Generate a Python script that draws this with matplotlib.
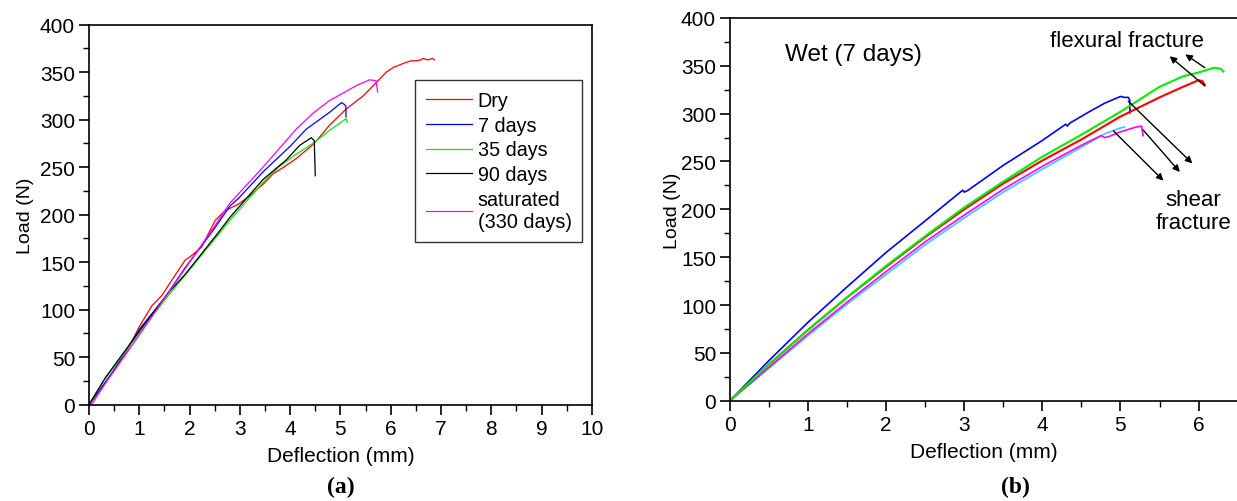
import numpy as np
import matplotlib
matplotlib.use("Agg")
import matplotlib.pyplot as plt
from matplotlib.ticker import MultipleLocator

plt.rcParams['font.family'] = ['Liberation Sans', 'DejaVu Sans']

# ---- panel (a): load-deflection, different immersion times ----
dry_x = [0, 0.22, 0.48, 0.75, 1.01, 1.25, 1.45, 1.71, 1.91, 2.04, 2.24, 2.51, 2.7, 2.97, 3.2,
         3.46, 3.66, 3.9, 4.12, 4.48, 4.78, 5.11, 5.45, 5.71, 5.91, 6.05, 6.24, 6.4, 6.51, 6.6,
         6.64, 6.74, 6.83, 6.87]
dry_y = [0, 15, 35, 56, 83, 104, 115, 136, 152, 157, 166, 194, 204, 211, 220,
         232, 243, 251, 259, 275, 294, 311, 325, 339, 350, 355, 359, 362, 362, 363,
         364.5, 363, 364.5, 363]

d7_x = [0, 0.48, 1.01, 1.5, 1.91, 2.49, 2.8, 2.97, 3.46, 4.0, 4.32, 4.79, 5.02, 5.08, 5.11, 5.11]
d7_y = [0, 35, 80, 112, 144, 185, 209, 217, 245, 272, 290, 308, 318, 316, 314, 303]

d35_x = [0, 0.32, 1.01, 1.58, 2.0, 2.57, 2.8, 3.13, 3.46, 3.79, 4.13, 4.48, 4.79, 5.11, 5.14]
d35_y = [0, 27, 76, 115, 142, 179, 194, 214, 234, 251, 264, 276, 289, 301, 297]

d90_x = [0, 0.32, 1.01, 1.58, 1.91, 2.57, 2.8, 3.13, 3.46, 3.93, 4.19, 4.42, 4.48, 4.5]
d90_y = [0, 28, 78, 118, 137, 181, 197, 217, 237, 258, 273, 281, 278, 241]

sat_x = [0.05, 0.32, 1.01, 1.5, 1.91, 2.5, 2.8, 3.46, 3.79, 4.12, 4.46, 4.78, 5.05, 5.32, 5.58,
         5.71, 5.74]
sat_y = [0, 22, 74, 112, 143, 188, 212, 250, 270, 290, 307, 320, 328, 336, 342, 341, 329]

# ---- panel (b): wet (7 days), five specimens ----
b_blue_x = [0, 0.5, 1.0, 1.5, 2.0, 2.5, 2.86, 2.98, 3.0, 3.05, 3.5, 4.0, 4.3, 4.32, 4.35, 4.6,
            4.8, 5.0, 5.05, 5.1, 5.12, 5.12]
b_blue_y = [0, 42, 82, 119, 155, 188, 212, 220, 218, 220, 246, 272, 289, 287, 290, 302,
            311, 318, 317, 317, 314, 301]

b_green_x = [0, 0.5, 1.0, 1.5, 2.0, 2.5, 3.0, 3.5, 4.0, 4.5, 5.0, 5.5, 5.8, 6.0, 6.2, 6.28, 6.32]
b_green_y = [0, 38, 74, 108, 141, 172, 202, 229, 255, 278, 302, 328, 339, 343, 348, 347, 344]

b_red_x = [0, 0.5, 1.0, 1.5, 2.0, 2.5, 3.0, 3.5, 4.0, 4.5, 5.0, 5.5, 5.8, 6.0, 6.05, 6.08]
b_red_y = [0, 38, 74, 108, 140, 171, 200, 227, 251, 273, 297, 317, 328, 335, 334, 330]

b_mag_x = [0, 0.5, 1.0, 1.5, 2.0, 2.5, 3.0, 3.5, 4.0, 4.5, 4.75, 4.8, 4.85, 5.0, 5.2, 5.27, 5.29]
b_mag_y = [0, 35, 70, 103, 135, 166, 194, 221, 245, 267, 277, 275, 276, 281, 286, 287, 277]

b_cyan_x = [0, 0.5, 1.0, 1.5, 2.0, 2.5, 3.0, 3.5, 4.0, 4.5, 4.8, 5.0, 5.05]
b_cyan_y = [0, 34, 68, 101, 132, 163, 191, 218, 242, 265, 279, 285, 286]

# arrows (tail, head) in data units
flex_arrows = [((6.08, 348), (5.83, 362)), ((6.08, 329), (5.63, 360))]
shear_arrows = [((5.10, 313), (5.92, 248)), ((5.29, 283), (5.76, 239)), ((4.91, 282), (5.55, 230))]

fig = plt.figure(figsize=(12.37, 5.02), dpi=100)
ax1 = fig.add_axes([0.0719, 0.1918, 0.4066, 0.757])
ax2 = fig.add_axes([0.5901, 0.1998, 0.4104, 0.7624])

fs = 15

ax1.plot(dry_x, dry_y, color='#ff0000', lw=0.9, label='Dry')
ax1.plot(d7_x, d7_y, color='#0000ff', lw=0.9, label='7 days')
ax1.plot(d35_x, d35_y, color='#00ee00', lw=0.9, label='35 days')
ax1.plot(d90_x, d90_y, color='black', lw=0.9, label='90 days')
ax1.plot(sat_x, sat_y, color='#ff00ff', lw=0.9, label='saturated\n(330 days)')
ax1.set_xlim(0, 10)
ax1.set_ylim(0, 400)
ax1.xaxis.set_major_locator(MultipleLocator(1))
ax1.xaxis.set_minor_locator(MultipleLocator(0.5))
ax1.yaxis.set_major_locator(MultipleLocator(50))
ax1.yaxis.set_minor_locator(MultipleLocator(25))
ax1.set_xlabel('Deflection (mm)', fontsize=fs, labelpad=6)
ax1.set_ylabel('Load (N)', fontsize=14, labelpad=4)
leg = ax1.legend(loc='upper right', bbox_to_anchor=(0.981, 0.855), borderaxespad=0, fontsize=14.2,
                 frameon=True, fancybox=False, edgecolor='black', handlelength=2.3,
                 labelspacing=0.3, borderpad=0.55, handletextpad=0.3)
leg.get_frame().set_linewidth(1.0)

ax2.plot(b_blue_x, b_blue_y, color='#0000ff', lw=1.2)
ax2.plot(b_cyan_x, b_cyan_y, color='#33ccff', lw=1.2)
ax2.plot(b_mag_x, b_mag_y, color='#ff00ff', lw=1.2)
ax2.plot(b_red_x, b_red_y, color='#ff0000', lw=1.5)
ax2.plot(b_green_x, b_green_y, color='#00ee00', lw=1.5)
ax2.set_xlim(0, 6.5)
ax2.set_ylim(0, 400)
ax2.xaxis.set_major_locator(MultipleLocator(1))
ax2.xaxis.set_minor_locator(MultipleLocator(0.5))
ax2.yaxis.set_major_locator(MultipleLocator(50))
ax2.yaxis.set_minor_locator(MultipleLocator(25))
ax2.set_xlabel('Deflection (mm)', fontsize=fs, labelpad=6)
ax2.set_ylabel('Load (N)', fontsize=14, labelpad=0)
ax2.text(0.70, 362, 'Wet (7 days)', fontsize=17.5, va='center', ha='left')
ax2.text(5.08, 376, 'flexural fracture', fontsize=16, va='center', ha='center')
ax2.text(5.93, 198, 'shear\nfracture', fontsize=16, va='center', ha='center',
         multialignment='center', linespacing=1.1)
for tail, head in flex_arrows + shear_arrows:
    ax2.annotate('', xy=head, xytext=tail,
                 arrowprops=dict(arrowstyle='-|>', color='black', lw=1.0, mutation_scale=10,
                                 shrinkA=0, shrinkB=0))

for ax in (ax1, ax2):
    ax.tick_params(which='both', direction='out', top=False, right=False, labelsize=fs)
    ax.tick_params(which='major', length=7, width=1.2, pad=3)
    ax.tick_params(which='minor', length=4, width=1.0)
    for s in ax.spines.values():
        s.set_linewidth(1.2)

fig.text(0.2757, 0.028, '(a)', fontsize=17, fontweight='bold', family='Liberation Serif',
         ha='center', va='center')
fig.text(0.8205, 0.028, '(b)', fontsize=17, fontweight='bold', family='Liberation Serif',
         ha='center', va='center')

fig.savefig('out.png', dpi=100)
